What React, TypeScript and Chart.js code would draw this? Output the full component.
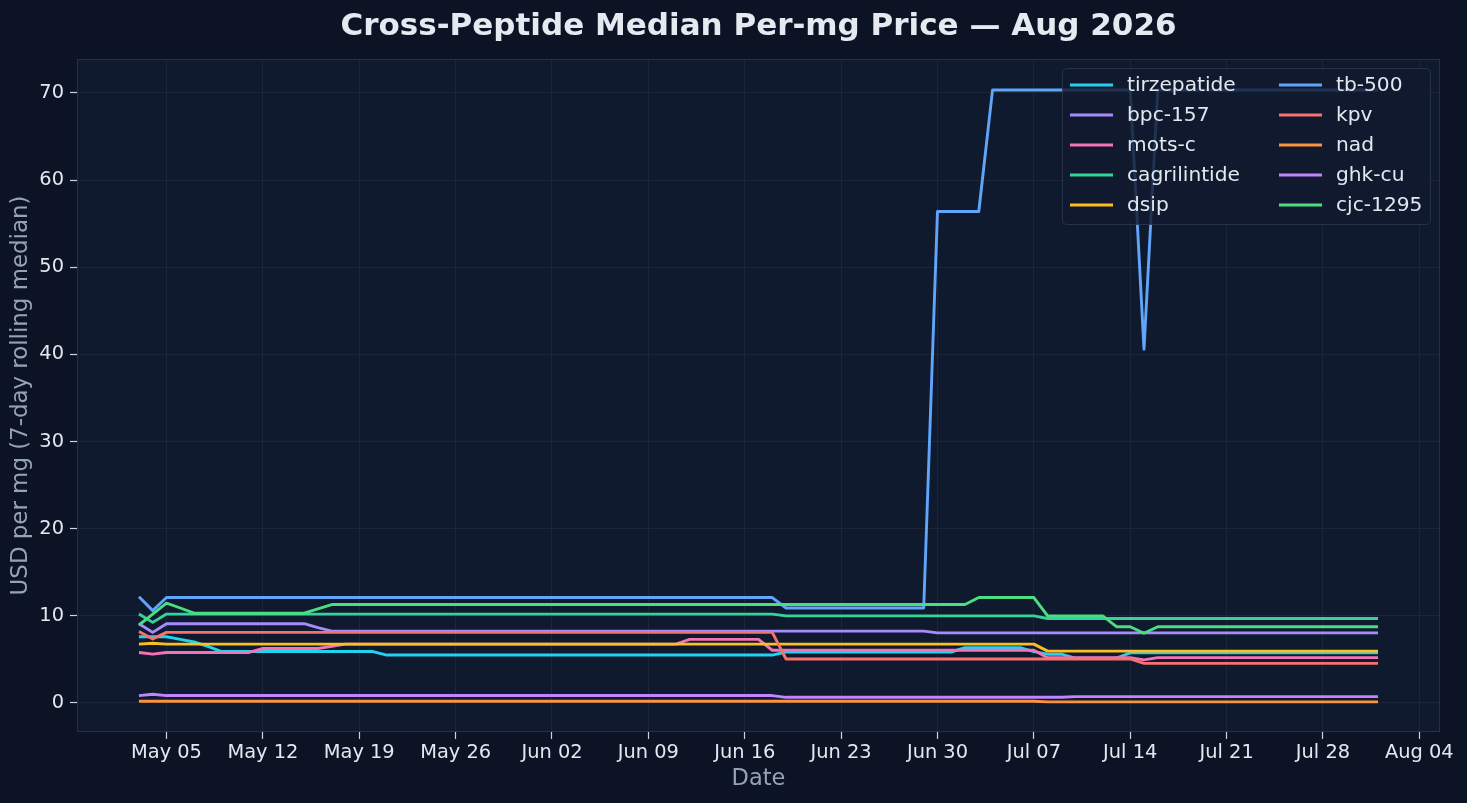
import React, { useEffect, useRef } from "react";
import { Chart, registerables } from "chart.js";

Chart.register(...registerables);

// ---- Data (daily, May 03 2026 .. Aug 01 2026) ----
const START_DATE = "2026-05-03";

const seriesNames = [
  "tirzepatide",
  "bpc-157",
  "mots-c",
  "cagrilintide",
  "dsip",
  "tb-500",
  "kpv",
  "nad",
  "ghk-cu",
  "cjc-1295",
];

const seriesColors = [
  "#22d3ee",
  "#a78bfa",
  "#f472b6",
  "#34d399",
  "#fbbf24",
  "#60a5fa",
  "#f87171",
  "#fb923c",
  "#c084fc",
  "#4ade80",
];

const tirzepatide = [
  7.6, 7.6, 7.6, 7.3, 7.0, 6.5, 5.9, 5.9, 5.9, 5.9,
  5.9, 5.9, 5.9, 5.9, 5.9, 5.9, 5.9, 5.9, 5.5, 5.5,
  5.5, 5.5, 5.5, 5.5, 5.5, 5.5, 5.5, 5.5, 5.5, 5.5,
  5.5, 5.5, 5.5, 5.5, 5.5, 5.5, 5.5, 5.5, 5.5, 5.5,
  5.5, 5.5, 5.5, 5.5, 5.5, 5.5, 5.5, 5.85, 5.85, 5.85,
  5.85, 5.85, 5.85, 5.85, 5.85, 5.85, 5.85, 5.85, 5.85, 5.85,
  6.35, 6.35, 6.35, 6.35, 6.35, 5.9, 5.6, 5.6, 5.15, 5.15,
  5.15, 5.15, 5.75, 5.75, 5.75, 5.75, 5.75, 5.75, 5.75, 5.75,
  5.75, 5.75, 5.75, 5.75, 5.75, 5.75, 5.75, 5.75, 5.75, 5.75,
  5.75,
];

const bpc157 = [
  9.1, 8.1, 9.1, 9.1, 9.1, 9.1, 9.1, 9.1, 9.1, 9.1,
  9.1, 9.1, 9.1, 8.65, 8.25, 8.25, 8.25, 8.25, 8.25, 8.25,
  8.25, 8.25, 8.25, 8.25, 8.25, 8.25, 8.25, 8.25, 8.25, 8.25,
  8.25, 8.25, 8.25, 8.25, 8.25, 8.25, 8.25, 8.25, 8.25, 8.25,
  8.25, 8.25, 8.25, 8.25, 8.25, 8.25, 8.25, 8.25, 8.25, 8.25,
  8.25, 8.25, 8.25, 8.25, 8.25, 8.25, 8.25, 8.25, 8.05, 8.05,
  8.05, 8.05, 8.05, 8.05, 8.05, 8.05, 8.05, 8.05, 8.05, 8.05,
  8.05, 8.05, 8.05, 8.05, 8.05, 8.05, 8.05, 8.05, 8.05, 8.05,
  8.05, 8.05, 8.05, 8.05, 8.05, 8.05, 8.05, 8.05, 8.05, 8.05,
  8.05,
];

const motsC = [
  5.8, 5.6, 5.8, 5.8, 5.8, 5.8, 5.8, 5.8, 5.8, 6.25,
  6.25, 6.25, 6.25, 6.25, 6.5, 6.75, 6.75, 6.75, 6.75, 6.75,
  6.75, 6.75, 6.75, 6.75, 6.75, 6.75, 6.75, 6.75, 6.75, 6.75,
  6.75, 6.75, 6.75, 6.75, 6.75, 6.75, 6.75, 6.75, 6.75, 6.75,
  7.3, 7.3, 7.3, 7.3, 7.3, 7.3, 6.05, 6.05, 6.05, 6.05,
  6.05, 6.05, 6.05, 6.05, 6.05, 6.05, 6.05, 6.05, 6.05, 6.05,
  6.05, 6.05, 6.05, 6.05, 6.05, 6.05, 5.2, 5.2, 5.2, 5.2,
  5.2, 5.2, 5.2, 4.95, 5.2, 5.2, 5.2, 5.2, 5.2, 5.2,
  5.2, 5.2, 5.2, 5.2, 5.2, 5.2, 5.2, 5.2, 5.2, 5.2,
  5.2,
];

const cagrilintide = [
  10.2, 9.25, 10.2, 10.2, 10.2, 10.2, 10.2, 10.2, 10.2, 10.2,
  10.2, 10.2, 10.2, 10.2, 10.2, 10.2, 10.2, 10.2, 10.2, 10.2,
  10.2, 10.2, 10.2, 10.2, 10.2, 10.2, 10.2, 10.2, 10.2, 10.2,
  10.2, 10.2, 10.2, 10.2, 10.2, 10.2, 10.2, 10.2, 10.2, 10.2,
  10.2, 10.2, 10.2, 10.2, 10.2, 10.2, 10.2, 10.0, 10.0, 10.0,
  10.0, 10.0, 10.0, 10.0, 10.0, 10.0, 10.0, 10.0, 10.0, 10.0,
  10.0, 10.0, 10.0, 10.0, 10.0, 10.0, 9.7, 9.7, 9.7, 9.7,
  9.7, 9.7, 9.7, 9.7, 9.7, 9.7, 9.7, 9.7, 9.7, 9.7,
  9.7, 9.7, 9.7, 9.7, 9.7, 9.7, 9.7, 9.7, 9.7, 9.7,
  9.7,
];

const dsip = [
  6.75, 6.85, 6.75, 6.75, 6.75, 6.75, 6.75, 6.75, 6.75, 6.75,
  6.75, 6.75, 6.75, 6.75, 6.75, 6.75, 6.75, 6.75, 6.75, 6.75,
  6.75, 6.75, 6.75, 6.75, 6.75, 6.75, 6.75, 6.75, 6.75, 6.75,
  6.75, 6.75, 6.75, 6.75, 6.75, 6.75, 6.75, 6.75, 6.75, 6.75,
  6.75, 6.75, 6.75, 6.75, 6.75, 6.75, 6.75, 6.75, 6.75, 6.75,
  6.75, 6.75, 6.75, 6.75, 6.75, 6.75, 6.75, 6.75, 6.75, 6.75,
  6.75, 6.75, 6.75, 6.75, 6.75, 6.75, 5.95, 5.95, 5.95, 5.95,
  5.95, 5.95, 5.95, 5.95, 5.95, 5.95, 5.95, 5.95, 5.95, 5.95,
  5.95, 5.95, 5.95, 5.95, 5.95, 5.95, 5.95, 5.95, 5.95, 5.95,
  5.95,
];

const tb500 = [
  12.2, 10.6, 12.1, 12.1, 12.1, 12.1, 12.1, 12.1, 12.1, 12.1,
  12.1, 12.1, 12.1, 12.1, 12.1, 12.1, 12.1, 12.1, 12.1, 12.1,
  12.1, 12.1, 12.1, 12.1, 12.1, 12.1, 12.1, 12.1, 12.1, 12.1,
  12.1, 12.1, 12.1, 12.1, 12.1, 12.1, 12.1, 12.1, 12.1, 12.1,
  12.1, 12.1, 12.1, 12.1, 12.1, 12.1, 12.1, 10.9, 10.9, 10.9,
  10.9, 10.9, 10.9, 10.9, 10.9, 10.9, 10.9, 10.9, 56.4, 56.4,
  56.4, 56.4, 70.35, 70.35, 70.35, 70.35, 70.35, 70.35, 70.35, 70.35,
  70.35, 70.35, 70.35, 40.6, 70.35, 70.35, 70.35, 70.35, 70.35, 70.35,
  70.35, 70.35, 70.35, 70.35, 70.35, 70.35, 70.35, 70.35, 70.35, 70.35,
  70.35,
];

const kpv = [
  8.2, 7.35, 8.1, 8.1, 8.1, 8.1, 8.1, 8.1, 8.1, 8.1,
  8.1, 8.1, 8.1, 8.1, 8.1, 8.1, 8.1, 8.1, 8.1, 8.1,
  8.1, 8.1, 8.1, 8.1, 8.1, 8.1, 8.1, 8.1, 8.1, 8.1,
  8.1, 8.1, 8.1, 8.1, 8.1, 8.1, 8.1, 8.1, 8.1, 8.1,
  8.1, 8.1, 8.1, 8.1, 8.1, 8.1, 8.1, 5.05, 5.05, 5.05,
  5.05, 5.05, 5.05, 5.05, 5.05, 5.05, 5.05, 5.05, 5.05, 5.05,
  5.05, 5.05, 5.05, 5.05, 5.05, 5.05, 5.05, 5.05, 5.05, 5.05,
  5.05, 5.05, 5.05, 4.55, 4.55, 4.55, 4.55, 4.55, 4.55, 4.55,
  4.55, 4.55, 4.55, 4.55, 4.55, 4.55, 4.55, 4.55, 4.55, 4.55,
  4.55,
];

const nad = [
  0.2, 0.2, 0.2, 0.2, 0.2, 0.2, 0.2, 0.2, 0.2, 0.2,
  0.2, 0.2, 0.2, 0.2, 0.2, 0.2, 0.2, 0.2, 0.2, 0.2,
  0.2, 0.2, 0.2, 0.2, 0.2, 0.2, 0.2, 0.2, 0.2, 0.2,
  0.2, 0.2, 0.2, 0.2, 0.2, 0.2, 0.2, 0.2, 0.2, 0.2,
  0.2, 0.2, 0.2, 0.2, 0.2, 0.2, 0.2, 0.2, 0.2, 0.2,
  0.2, 0.2, 0.2, 0.2, 0.2, 0.2, 0.2, 0.2, 0.2, 0.2,
  0.2, 0.2, 0.2, 0.2, 0.2, 0.2, 0.13, 0.13, 0.13, 0.13,
  0.13, 0.13, 0.13, 0.13, 0.13, 0.13, 0.13, 0.13, 0.13, 0.13,
  0.13, 0.13, 0.13, 0.13, 0.13, 0.13, 0.13, 0.13, 0.13, 0.13,
  0.13,
];

const ghkCu = [
  0.85, 1.0, 0.85, 0.85, 0.85, 0.85, 0.85, 0.85, 0.85, 0.85,
  0.85, 0.85, 0.85, 0.85, 0.85, 0.85, 0.85, 0.85, 0.85, 0.85,
  0.85, 0.85, 0.85, 0.85, 0.85, 0.85, 0.85, 0.85, 0.85, 0.85,
  0.85, 0.85, 0.85, 0.85, 0.85, 0.85, 0.85, 0.85, 0.85, 0.85,
  0.85, 0.85, 0.85, 0.85, 0.85, 0.85, 0.85, 0.65, 0.65, 0.65,
  0.65, 0.65, 0.65, 0.65, 0.65, 0.65, 0.65, 0.65, 0.65, 0.65,
  0.65, 0.65, 0.65, 0.65, 0.65, 0.65, 0.65, 0.65, 0.73, 0.73,
  0.73, 0.73, 0.73, 0.73, 0.73, 0.73, 0.73, 0.73, 0.73, 0.73,
  0.73, 0.73, 0.73, 0.73, 0.73, 0.73, 0.73, 0.73, 0.73, 0.73,
  0.73,
];

const cjc1295 = [
  8.95, 10.2, 11.45, 10.9, 10.3, 10.3, 10.3, 10.3, 10.3, 10.3,
  10.3, 10.3, 10.3, 10.8, 11.3, 11.3, 11.3, 11.3, 11.3, 11.3,
  11.3, 11.3, 11.3, 11.3, 11.3, 11.3, 11.3, 11.3, 11.3, 11.3,
  11.3, 11.3, 11.3, 11.3, 11.3, 11.3, 11.3, 11.3, 11.3, 11.3,
  11.3, 11.3, 11.3, 11.3, 11.3, 11.3, 11.3, 11.3, 11.3, 11.3,
  11.3, 11.3, 11.3, 11.3, 11.3, 11.3, 11.3, 11.3, 11.3, 11.3,
  11.3, 12.1, 12.1, 12.1, 12.1, 12.1, 10.0, 10.0, 10.0, 10.0,
  10.0, 8.75, 8.75, 8.0, 8.75, 8.75, 8.75, 8.75, 8.75, 8.75,
  8.75, 8.75, 8.75, 8.75, 8.75, 8.75, 8.75, 8.75, 8.75, 8.75,
  8.75,
];

const seriesValues = [
  tirzepatide, bpc157, motsC, cagrilintide, dsip,
  tb500, kpv, nad, ghkCu, cjc1295,
];

const xTickLabels = [
  "May 05", "May 12", "May 19", "May 26", "Jun 02", "Jun 09", "Jun 16",
  "Jun 23", "Jun 30", "Jul 07", "Jul 14", "Jul 21", "Jul 28", "Aug 04",
];
const yTickValues = [0, 10, 20, 30, 40, 50, 60, 70];

const TITLE = "Cross-Peptide Median Per-mg Price \u2014 Aug 2026";
const Y_TITLE = "USD per mg (7-day rolling median)";
const X_TITLE = "Date";

// ---- helpers ----
const MONTHS: Record<string, number> = {
  Jan: 0, Feb: 1, Mar: 2, Apr: 3, May: 4, Jun: 5,
  Jul: 6, Aug: 7, Sep: 8, Oct: 9, Nov: 10, Dec: 11,
};
const startParts = START_DATE.split("-").map(Number);
const startUTC = Date.UTC(startParts[0], startParts[1] - 1, startParts[2]);
const dayOf = (label: string) => {
  const [m, d] = label.split(" ");
  return Math.round((Date.UTC(startParts[0], MONTHS[m], Number(d)) - startUTC) / 86400000);
};
const xTickDays = xTickLabels.map(dayOf);

const FONT = "'DejaVu Sans', 'Liberation Sans', sans-serif";
const OUTER_BG = "#0b1324";
const PLOT_BG = "#0f1a2e";
const GRID = "#1c2638";
const SPINE = "#233045";
const TICK_TEXT = "#e2e8f0";
const AXIS_TITLE = "#94a3b8";

const decorPlugin = {
  id: "decor",
  beforeDraw(chart: any) {
    const { ctx, chartArea, width, height } = chart;
    ctx.save();
    ctx.fillStyle = OUTER_BG;
    ctx.fillRect(0, 0, width, height);
    ctx.fillStyle = PLOT_BG;
    ctx.fillRect(chartArea.left, chartArea.top, chartArea.right - chartArea.left, chartArea.bottom - chartArea.top);
    ctx.restore();
  },
  afterDatasetsDraw(chart: any) {
    const { ctx, chartArea } = chart;
    ctx.save();
    // spines
    ctx.strokeStyle = SPINE;
    ctx.lineWidth = 1;
    ctx.strokeRect(chartArea.left + 0.5, chartArea.top + 0.5, chartArea.right - chartArea.left - 1, chartArea.bottom - chartArea.top - 1);

    // legend (two columns, inside upper right)
    const boxL = 1062.5, boxT = 68.5, boxW = 368, boxH = 156;
    const r = 5;
    ctx.beginPath();
    ctx.moveTo(boxL + r, boxT);
    ctx.lineTo(boxL + boxW - r, boxT);
    ctx.quadraticCurveTo(boxL + boxW, boxT, boxL + boxW, boxT + r);
    ctx.lineTo(boxL + boxW, boxT + boxH - r);
    ctx.quadraticCurveTo(boxL + boxW, boxT + boxH, boxL + boxW - r, boxT + boxH);
    ctx.lineTo(boxL + r, boxT + boxH);
    ctx.quadraticCurveTo(boxL, boxT + boxH, boxL, boxT + boxH - r);
    ctx.lineTo(boxL, boxT + r);
    ctx.quadraticCurveTo(boxL, boxT, boxL + r, boxT);
    ctx.closePath();
    ctx.fillStyle = "rgba(17, 26, 46, 0.82)";
    ctx.fill();
    ctx.strokeStyle = "rgba(45, 58, 80, 0.8)";
    ctx.lineWidth = 1;
    ctx.stroke();

    const colX = [1070, 1279];
    const rowY = [85, 115, 145, 175, 205];
    ctx.font = `20.2px ${FONT}`;
    ctx.textBaseline = "middle";
    ctx.textAlign = "left";
    chart.data.datasets.forEach((ds: any, i: number) => {
      const col = Math.floor(i / 5);
      const row = i % 5;
      const x = colX[col];
      const y = rowY[row];
      ctx.strokeStyle = ds.borderColor;
      ctx.lineWidth = 3;
      ctx.lineCap = "butt";
      ctx.beginPath();
      ctx.moveTo(x, y);
      ctx.lineTo(x + 43, y);
      ctx.stroke();
      ctx.fillStyle = TICK_TEXT;
      ctx.fillText(ds.label, x + 57, y + 1);
    });
    ctx.restore();
  },
  afterDraw(chart: any) {
    const { ctx, chartArea } = chart;
    ctx.save();
    ctx.font = `bold 31px ${FONT}`;
    ctx.fillStyle = "#e5e9f0";
    ctx.textAlign = "center";
    ctx.textBaseline = "alphabetic";
    ctx.fillText(TITLE, (chartArea.left + chartArea.right) / 2, 35);
    ctx.restore();
  },
};

export default function App() {
  const canvasRef = useRef<HTMLCanvasElement | null>(null);

  useEffect(() => {
    document.body.style.margin = "0";
    document.body.style.background = OUTER_BG;
    const canvas = canvasRef.current;
    if (!canvas) return;

    const datasets = seriesNames.map((name, i) => ({
      label: name,
      data: seriesValues[i].map((v, d) => ({ x: d, y: v })),
      borderColor: seriesColors[i],
      backgroundColor: seriesColors[i],
      borderWidth: 2.9,
      pointRadius: 0,
      pointHoverRadius: 0,
      tension: 0,
      fill: false,
      borderJoinStyle: "round" as const,
      borderCapStyle: "butt" as const,
      order: seriesNames.length - i,
    }));

    const chart = new Chart(canvas, {
      type: "line",
      data: { datasets },
      options: {
        animation: false,
        responsive: false,
        maintainAspectRatio: false,
        events: [],
        layout: { padding: { top: 59, right: 27, left: 0, bottom: 0 } },
        plugins: {
          legend: { display: false },
          tooltip: { enabled: false },
          title: { display: false },
        },
        scales: {
          x: {
            type: "linear",
            min: -4.5,
            max: 94.5,
            afterBuildTicks: (scale: any) => {
              scale.ticks = xTickDays.map((v) => ({ value: v }));
            },
            afterFit: (scale: any) => {
              scale.height = 71;
            },
            ticks: {
              autoSkip: false,
              maxRotation: 0,
              minRotation: 0,
              padding: 2,
              color: TICK_TEXT,
              font: { family: FONT, size: 19.4 },
              callback: (_v: any, idx: number) => xTickLabels[idx],
            },
            grid: {
              color: GRID,
              lineWidth: 1,
              tickColor: "#cbd5e1",
              tickLength: 7,
              tickWidth: 1.2,
            },
            border: { display: false },
            title: {
              display: true,
              text: X_TITLE,
              color: AXIS_TITLE,
              font: { family: FONT, size: 22.5 },
              padding: { top: 0, bottom: 10.3 },
            },
          },
          y: {
            type: "linear",
            min: -3.33,
            max: 73.9,
            afterBuildTicks: (scale: any) => {
              scale.ticks = yTickValues.map((v) => ({ value: v }));
            },
            afterFit: (scale: any) => {
              scale.width = 77;
            },
            ticks: {
              padding: 6,
              color: TICK_TEXT,
              font: { family: FONT, size: 19.4 },
              callback: (v: any) => String(v),
            },
            grid: {
              color: GRID,
              lineWidth: 1,
              tickColor: "#cbd5e1",
              tickLength: 7,
              tickWidth: 1.2,
            },
            border: { display: false },
            title: {
              display: true,
              text: Y_TITLE,
              color: AXIS_TITLE,
              font: { family: FONT, size: 22.9 },
              padding: { top: 7.8, bottom: 0 },
            },
          },
        },
      },
      plugins: [decorPlugin],
    });

    return () => {
      chart.destroy();
    };
  }, []);

  return (
    <div style={{ width: 1467, height: 803, overflow: "hidden" }}>
      <canvas ref={canvasRef} width={1467} height={803} style={{ width: 1467, height: 803, display: "block" }} />
    </div>
  );
}
